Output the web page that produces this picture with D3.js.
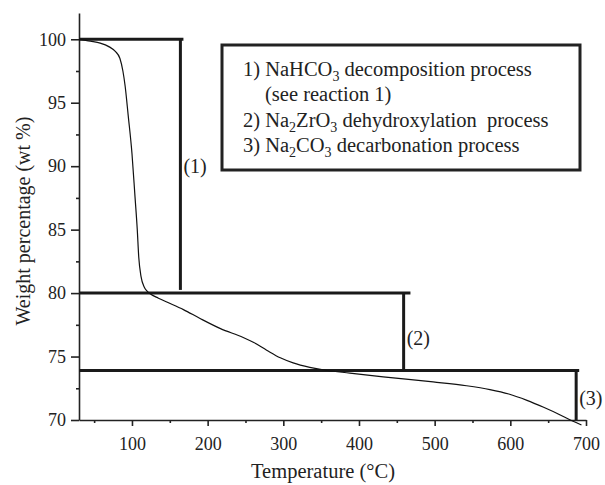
<!DOCTYPE html>
<html>
<head>
<meta charset="utf-8">
<script src="https://cdn.jsdelivr.net/npm/d3@7"></script>
<style>
  body { margin: 0; background: #fff; }
</style>
</head>
<body>
<div id="chart"></div>
<script>
// TGA curve
var tempC  = [30, 45, 58, 70, 78, 84, 88, 91, 95, 100, 104, 107, 109, 112, 116, 120, 124, 135, 146,
              168, 190, 217, 247, 261, 278, 296, 313, 335, 358, 388, 432, 498, 542, 573, 598,
              622, 644, 666, 683, 694];
var weight = [100, 99.85, 99.7, 99.4, 99.05, 98.5, 97.5, 96.3, 94.0, 91.0, 87.6, 85.0, 82.8, 81.3, 80.5,
              80.15, 79.95, 79.6, 79.3, 78.7, 78.0, 77.2, 76.5, 76.1, 75.5, 74.9, 74.5, 74.15, 73.9,
              73.7, 73.4, 73.0, 72.7, 72.4, 72.05, 71.55, 71.0, 70.4, 69.9, 69.6];

// step markers for the three processes
var stepLevel = [100, 80, 73.9];     // wt% of each horizontal bar
var stepBottom = [80.25, 73.9, 70];   // where each vertical drop ends
var stepDropT = [164, 459, 687];     // temperature of vertical drop
var stepEndT  = [168, 468, 691];     // end of horizontal bar
var stepLabel = ["(1)", "(2)", "(3)"];
var stepLabelY = [90, 76.5, 71.7];

var xMajor = [100, 200, 300, 400, 500, 600, 700];
var xMinor = [50, 150, 250, 350, 450, 550, 650];
var yMajor = [70, 75, 80, 85, 90, 95, 100];
var yMinor = [72.5, 77.5, 82.5, 87.5, 92.5, 97.5];

var legendLines = [
  [["1) NaHCO", ""], ["3", "sub"], [" decomposition process", ""]],
  [["(see reaction 1)", ""]],
  [["2) Na", ""], ["2", "sub"], ["ZrO", ""], ["3", "sub"], [" dehydroxylation  process", ""]],
  [["3) Na", ""], ["2", "sub"], ["CO", ""], ["3", "sub"], [" decarbonation process", ""]]
];

var width = 605, height = 485;
var margin = {top: 13, right: 19, bottom: 65, left: 79};
var serif = "Liberation Serif, Tinos, DejaVu Serif, serif";
var ink = "#222";

var svg = d3.select("#chart").append("svg")
  .attr("width", width).attr("height", height)
  .style("background", "#fff");

var x = d3.scaleLinear().domain([30, 700]).range([margin.left, width - margin.right]);
var y = d3.scaleLinear().domain([70, 102.07]).range([height - margin.bottom, margin.top]);

// x axis
var gx = svg.append("g").attr("transform", "translate(0," + y(70) + ")");
gx.call(d3.axisBottom(x).tickValues(xMajor).tickSize(6).tickSizeOuter(0).tickPadding(11)
  .tickFormat(d3.format("d")));
gx.append("g").call(d3.axisBottom(x).tickValues(xMinor).tickSize(3).tickFormat(""))
  .select(".domain").remove();

// y axis
var gy = svg.append("g").attr("transform", "translate(" + x(30) + ",0)");
gy.call(d3.axisLeft(y).tickValues(yMajor).tickSize(8).tickSizeOuter(0).tickPadding(5)
  .tickFormat(d3.format("d")));
gy.append("g").call(d3.axisLeft(y).tickValues(yMinor).tickSize(3).tickFormat(""))
  .select(".domain").remove();

svg.selectAll(".domain, .tick line").attr("stroke", ink).attr("stroke-width", 1.6);
svg.selectAll(".tick text").attr("font-family", serif).attr("font-size", 18).attr("fill", ink);
gx.attr("font-family", serif); gy.attr("font-family", serif);

// axis titles
svg.append("text")
  .attr("x", 323).attr("y", 478)
  .attr("text-anchor", "middle")
  .attr("font-family", serif).attr("font-size", 20.5).attr("fill", ink)
  .text("Temperature (°C)");

svg.append("text")
  .attr("transform", "translate(30,221) rotate(-90)")
  .attr("text-anchor", "middle")
  .attr("font-family", serif).attr("font-size", 20).attr("fill", ink)
  .text("Weight percentage (wt %)");

// step bars
var steps = stepLevel.map(function(d, i) {
  return {level: d, bottom: stepBottom[i], dropT: stepDropT[i], endT: stepEndT[i],
          label: stepLabel[i], ly: stepLabelY[i]};
});

var gs = svg.append("g");
gs.selectAll("line.h").data(steps).enter().append("line")
  .attr("class", "h")
  .attr("x1", x(30)).attr("x2", function(d) { return x(d.endT); })
  .attr("y1", function(d) { return y(d.level); }).attr("y2", function(d) { return y(d.level); })
  .attr("stroke", "#1a1a1a").attr("stroke-width", 3);
gs.selectAll("line.v").data(steps).enter().append("line")
  .attr("class", "v")
  .attr("x1", function(d) { return x(d.dropT); }).attr("x2", function(d) { return x(d.dropT); })
  .attr("y1", function(d) { return y(d.level); }).attr("y2", function(d) { return y(d.bottom); })
  .attr("stroke", "#1a1a1a").attr("stroke-width", 3);
gs.selectAll("text").data(steps).enter().append("text")
  .attr("x", function(d) { return x(d.dropT) + 3; })
  .attr("y", function(d) { return y(d.ly); })
  .attr("dy", "0.35em")
  .attr("font-family", serif).attr("font-size", 20).attr("fill", ink)
  .text(function(d) { return d.label; });

// TGA curve
var pts = tempC.map(function(t, i) { return [t, weight[i]]; });
svg.append("path")
  .datum(pts)
  .attr("fill", "none")
  .attr("stroke", "#111")
  .attr("stroke-width", 1.2)
  .attr("d", d3.line().curve(d3.curveMonotoneX)
    .x(function(d) { return x(d[0]); })
    .y(function(d) { return y(d[1]); }));

// legend box
svg.append("rect")
  .attr("x", 222).attr("y", 45).attr("width", 358).attr("height", 125)
  .attr("fill", "#fff").attr("stroke", "#222").attr("stroke-width", 3);

var lgX = [243, 265, 243, 243];
var lgY = [76, 101, 127, 152];
legendLines.forEach(function(parts, i) {
  var t = svg.append("text")
    .attr("x", lgX[i]).attr("y", lgY[i])
    .attr("font-family", serif).attr("font-size", 20.5).attr("fill", ink)
    .style("white-space", "pre");
  var prev = "";
  parts.forEach(function(p) {
    var s = t.append("tspan").text(p[0]);
    if (p[1] === "sub") s.attr("font-size", 14).attr("dy", prev === "sub" ? 0 : 5);
    else s.attr("dy", prev === "sub" ? -5 : 0);
    prev = p[1];
  });
});
</script>
</body>
</html>
